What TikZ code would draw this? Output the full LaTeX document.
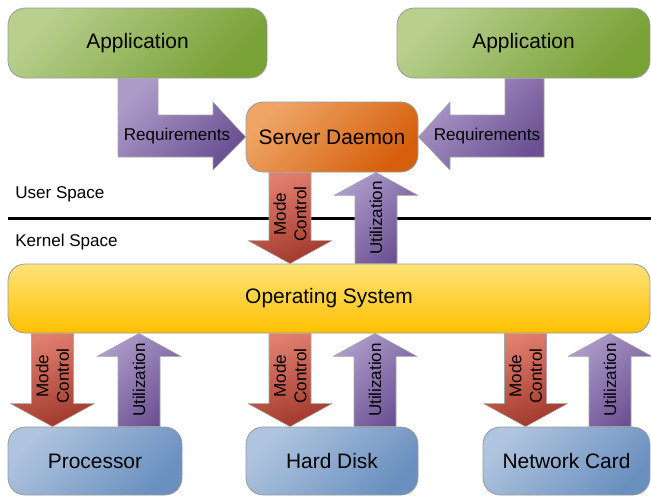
\documentclass[tikz,border=0pt]{standalone}
\usepackage{fontspec}
\setmainfont{Liberation Sans}
\usetikzlibrary{calc}

\definecolor{appL}{HTML}{B8CF8E}
\definecolor{appM}{HTML}{8FB34C}
\definecolor{appD}{HTML}{78A136}
\definecolor{demL}{HTML}{EFA566}
\definecolor{demM}{HTML}{E27425}
\definecolor{demD}{HTML}{D55F0C}
\definecolor{osL}{HTML}{FFE37A}
\definecolor{osM}{HTML}{FFCC33}
\definecolor{osD}{HTML}{FFC000}
\definecolor{hwL}{HTML}{AFC4DE}
\definecolor{hwM}{HTML}{83A3CB}
\definecolor{hwD}{HTML}{6A90BF}
\definecolor{utilL}{HTML}{AD9BC9}
\definecolor{utilM}{HTML}{8169A8}
\definecolor{utilD}{HTML}{6A4F92}
\definecolor{modeL}{HTML}{E28070}
\definecolor{modeM}{HTML}{BF5446}
\definecolor{modeD}{HTML}{A0392B}

\newcommand{\bigfont}{\fontsize{15.7}{18}\selectfont}
\newcommand{\midfont}{\fontsize{12.8}{15.4}\selectfont}

\tikzset{
  box/.style={rectangle, rounded corners=13pt, draw=black!40, line width=0.6pt, inner sep=0pt, font=\bigfont},
  tone/.style n args={3}{top color=#1, middle color=#2, bottom color=#3, shading angle=45},
  appbox/.style={box, tone={appL}{appM}{appD}, minimum height=52.5pt},
  dembox/.style={box, tone={demL}{demM}{demD}, minimum height=52.5pt, minimum width=129pt},
  osbox/.style={box, top color=osL, middle color=osM, bottom color=osD, minimum height=51.75pt, minimum width=481.5pt},
  hwbox/.style={box, tone={hwL}{hwM}{hwD}, minimum height=51pt},
  blk/.style={draw=black!35, line width=0.4pt},
  modefill/.style={blk, top color=modeL, middle color=modeM, bottom color=modeD, shading angle=20},
  utilfill/.style={blk, tone={utilL}{utilM}{utilD}},
  lbl/.style={font=\midfont, inner sep=0pt},
}

% down arrow: name, x, from, to
\newcommand{\blockdown}[4]{%
  \coordinate (#1t) at (#2,0 |- #3);
  \coordinate (#1b) at (#2,0 |- #4);
  \draw[modefill] ($(#1t)+(-21,0)$) -- ($(#1t)+(21,0)$) -- ($(#1b)+(21,-23)$) -- ($(#1b)+(42,-23)$)
    -- (#1b) -- ($(#1b)+(-42,-23)$) -- ($(#1b)+(-21,-23)$) -- cycle;
  \node[lbl, rotate=90, align=center] (#1) at ($(#1t)!0.5!(#1b)+(0,-4)$) {Mode\\Control};}
% up arrow: name, x, to, from
\newcommand{\blockup}[4]{%
  \coordinate (#1t) at (#2,0 |- #3);
  \coordinate (#1b) at (#2,0 |- #4);
  \draw[utilfill] ($(#1b)+(-21,0)$) -- ($(#1t)+(-21,23)$) -- ($(#1t)+(-42,23)$) -- (#1t)
    -- ($(#1t)+(42,23)$) -- ($(#1t)+(21,23)$) -- ($(#1b)+(21,0)$) -- cycle;
  \node[lbl, rotate=90] (#1) at ($(#1t)!0.5!(#1b)$) {Utilization};}

\begin{document}
\begin{tikzpicture}[x=0.75pt,y=-0.75pt,line join=round]
\useasboundingbox (0,0) rectangle (651,496);
%%%%%%%%%%%%%%%
\node[appbox, minimum width=194.25pt] (appL) at (137.5,43) {Application};
\node[appbox, minimum width=189.75pt] (appR) at (523.5,43) {Application};
\node[dembox] (daemon) at (332,137) {Server Daemon};
\node[osbox] (os) at (329,298.5) {Operating System};
\node[hwbox, minimum width=130.5pt] (cpu) at (95,461) {Processor};
\node[hwbox, minimum width=129pt] (disk) at (332,461) {Hard Disk};
\node[hwbox, minimum width=125.25pt] (nic) at (566.5,461) {Network Card};
%%%%%%%%%%%%%%%
\draw[line width=2.25pt] (8,218) -- (651,218);
\node[lbl, anchor=west] (user) at (15,194) {User Space};
\node[lbl, anchor=west] (kernel) at (15,242) {Kernel Space};
%%%%%%%%%%%%%%%
\draw[utilfill] (118,0 |- appL.south) -- (158,0 |- appL.south) -- (158,115) -- (213,115) -- (213,102)
  -- (daemon.west) -- (213,170) -- (213,157) -- (118,157) -- cycle;
\node[lbl] (reqL) at (177,136) {Requirements};
\draw[utilfill] (544,0 |- appR.south) -- (505,0 |- appR.south) -- (505,115) -- (450,115) -- (450,102)
  -- (daemon.east) -- (450,170) -- (450,157) -- (544,157) -- cycle;
\node[lbl] (reqR) at (487,136) {Requirements};
%%%%%%%%%%%%%%%
\blockdown{mcD}{290}{daemon.south}{os.north}
\blockup{utD}{376}{daemon.south}{os.north}
\blockdown{mcC}{52.5}{os.south}{cpu.north}
\blockup{utC}{139}{os.south}{cpu.north}
\blockdown{mcH}{290}{os.south}{disk.north}
\blockup{utH}{375}{os.south}{disk.north}
\blockdown{mcN}{525.5}{os.south}{nic.north}
\blockup{utN}{610}{os.south}{nic.north}
\end{tikzpicture}
\end{document}
